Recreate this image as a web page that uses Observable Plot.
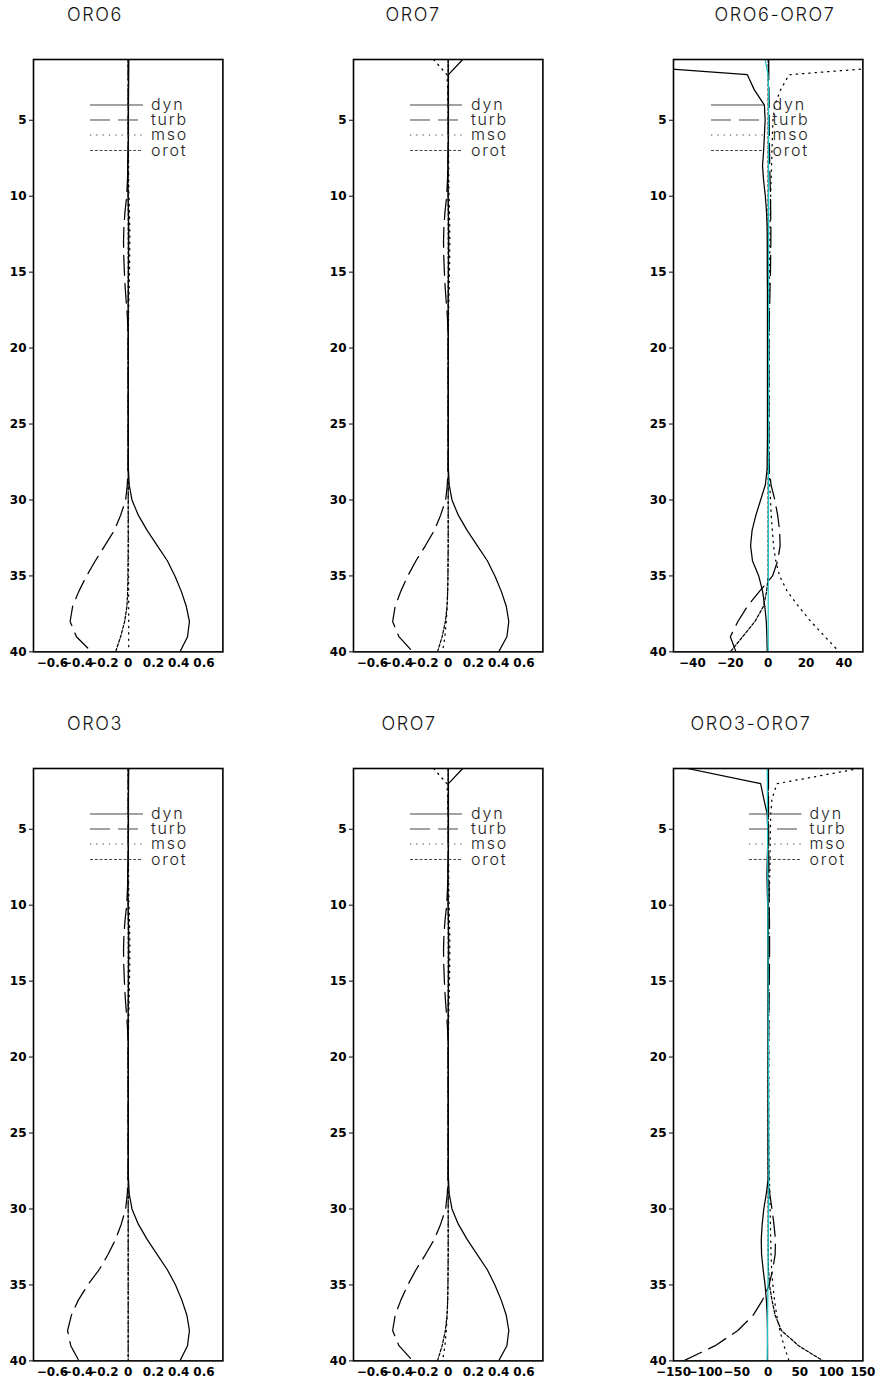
<!DOCTYPE html>
<html><head><meta charset="utf-8">
<script src="https://cdn.jsdelivr.net/npm/d3@7"></script>
<script src="https://cdn.jsdelivr.net/npm/@observablehq/plot@0.6"></script>
<style>
body{margin:0;background:#fff;}
#wrap{position:relative;width:875px;height:1384px;background:#fff;overflow:hidden;}
.ttl{position:absolute;font-family:Inter,"DejaVu Sans",sans-serif;font-weight:300;font-size:18px;letter-spacing:1.6px;color:#111;white-space:nowrap;transform:translate(-50%,-50%);}
.panel{position:absolute;}
</style></head><body><div id="wrap"></div>
<script>
// model levels (1 = top)
const levels = [1,2,3,4,5,6,7,8,9,10,11,12,13,14,15,16,17,18,19,20,21,22,23,24,25,26,27,28,29,30,31,32,33,34,35,36,37,38,39,40];
const yTicks = [5,10,15,20,25,30,35,40];
const seriesNames = ["dyn","turb","mso","orot"];

// ORO6
const oro6Dyn  = [0.005,0.004,0.003,0.002,0.002,0.002,0.000,-0.004,-0.005,-0.001, 0.002,0.004,0.004,0.003,0.002,0.001,0,0,0,0, 0,0,0,0,0,0,0,0.002,0.008,0.030, 0.080,0.150,0.230,0.310,0.370,0.420,0.460,0.485,0.470,0.410];
const oro6Turb = [0,0,0,0,0,0,0,-0.002,-0.006,-0.012, -0.025,-0.034,-0.037,-0.035,-0.030,-0.024,-0.015,-0.006,-0.001,0, 0,0,0,0,0,0,0,-0.002,-0.007,-0.020, -0.060,-0.110,-0.185,-0.260,-0.330,-0.390,-0.440,-0.460,-0.410,-0.290];
const oro6Mso  = [0,0,0,0.001,0.001,0.002,0.002,0.003,0.004,0.006, 0.010,0.012,0.013,0.012,0.010,0.008,0.005,0.003,0.001,0, 0,0,0,0,0,0,0,0.001,0.001,0.001, 0.001,0.002,0.002,0.002,0.003,0.003,0.004,0.004,0.004,0.004];
const oro6Orot = [0,0,0,0,0,0,0,0,0,0, 0,0,0,0,0,0,0,0,0,0, 0,0,0,0,0,0,0,0,0,0, 0,0,0,-0.001,-0.002,-0.004,-0.010,-0.028,-0.060,-0.100];

// ORO7
const oro7Dyn  = [0.115,0.002,0.002,0.002,0.002,0.002,0.000,-0.003,-0.004,-0.001, 0.002,0.003,0.004,0.003,0.002,0.001,0,0,0,0, 0,0,0,0,0,0,0,0.002,0.008,0.030, 0.080,0.150,0.230,0.310,0.370,0.420,0.460,0.480,0.465,0.400];
const oro7Turb = [0,0,0,0,0,0,0,-0.002,-0.006,-0.012, -0.025,-0.034,-0.037,-0.035,-0.030,-0.024,-0.015,-0.006,-0.001,0, 0,0,0,0,0,0,0,-0.002,-0.007,-0.020, -0.060,-0.110,-0.180,-0.255,-0.320,-0.375,-0.420,-0.440,-0.390,-0.280];
const oro7Mso  = [-0.115,-0.010,-0.004,-0.002,0.000,0.002,0.003,0.004,0.005,0.007, 0.010,0.012,0.013,0.012,0.010,0.008,0.005,0.003,0.001,0, 0,0,0,0,0,0,0,0,0,0, 0,0,0,-0.001,-0.002,-0.004,-0.008,-0.015,-0.026,-0.045];
const oro7Orot = [0,0,0,0,0,0,0,0,0,0, 0,0,0,0,0,0,0,0,0,0, 0,0,0,0,0,0,0,0,0,0, 0,0,0,-0.001,-0.002,-0.004,-0.009,-0.022,-0.048,-0.085];

// ORO3
const oro3Dyn  = [0.004,0.003,0.002,0.002,0.002,0.001,0.000,-0.004,-0.005,-0.001, 0.002,0.004,0.004,0.003,0.002,0.001,0,0,0,0, 0,0,0,0,0,0,0,0.002,0.008,0.030, 0.080,0.150,0.230,0.310,0.375,0.425,0.465,0.485,0.470,0.410];
const oro3Turb = [0,0,0,0,0,0,0,-0.002,-0.006,-0.012, -0.025,-0.034,-0.037,-0.035,-0.030,-0.024,-0.015,-0.006,-0.001,0, 0,0,0,0,0,0,0,-0.002,-0.007,-0.020, -0.055,-0.100,-0.160,-0.230,-0.320,-0.395,-0.450,-0.480,-0.455,-0.390];
const oro3Mso  = [0,0,0,0.001,0.001,0.002,0.002,0.003,0.004,0.006, 0.010,0.012,0.013,0.012,0.010,0.008,0.005,0.003,0.001,0, 0,0,0,0,0,0,0,0,0,0, 0,0,0,0,0,0,0,0,0,0];
const oro3Orot = [0,0,0,0,0,0,0,0,0,0, 0,0,0,0,0,0,0,0,0,0, 0,0,0,0,0,0,0,0,0,0, 0,0,0,0,0,0,0,0,0,0];

// ORO6-ORO7
const d67Dyn  = [-120,-11,-7.3,-2.0,-1.6,-2.0,-2.4,-3.0,-2.4,-1.5, -0.9,-0.6,-0.5,-0.5,-0.5,-0.4,-0.4,-0.4,-0.4,-0.4, -0.4,-0.4,-0.4,-0.4,-0.4,-0.4,-0.5,-0.6,-1.5,-4.0, -6.5,-8.5,-9.3,-8.3,-5.0,-3.0,-1.8,-1.0,-0.7,-0.5];
const d67Turb = [0.3,0.3,0.4,0.5,0.5,0.6,0.7,0.8,1.0,1.2, 1.3,1.4,1.4,1.3,1.2,1.0,0.8,0.6,0.5,0.4, 0.4,0.4,0.4,0.4,0.4,0.4,0.4,0.6,1.5,3.5, 5.0,6.0,6.3,5.0,2.3,-4.5,-11.0,-16.0,-20.0,-17.0];
const d67Mso  = [115,11,6.5,3.5,2.5,2.2,2.0,1.8,1.5,1.3, 1.1,1.0,0.9,0.8,0.7,0.6,0.6,0.5,0.5,0.5, 0.5,0.5,0.5,0.5,0.5,0.5,0.5,0.6,0.8,1.2, 1.6,2.2,2.8,4.0,6.0,10.0,16.0,22.5,30.0,37.5];
const d67Orot = [0,0,0,0,0,0,0,0,0,0, 0,0,0,0,0,0,0,0,0,0, 0,0,0,0,0,0,0,0,0,0, 0,0,0,0,0,-0.8,-2.5,-7.0,-13.5,-20.0];
const d67Tot  = [-1.6,-0.1,0.2,0.2,0.2,0.2,0.2,0.2,0.2,0.2, 0.2,0.2,0.2,0.2,0.2,0.2,0.2,0.2,0.2,0.2, 0.2,0.2,0.2,0.2,0.2,0.2,0.2,0.2,0.2,0.2, 0.1,0.1,0.1,0.1,0.1,0,0,0,0,0];

// ORO3-ORO7
const d37Dyn  = [-128,-12,-7,-1.6,-0.8,-0.8,-1.5,-2.0,-1.5,-0.8, -0.5,-0.3,-0.3,-0.3,-0.3,-0.3,-0.3,-0.3,-0.3,-0.3, -0.3,-0.3,-0.3,-0.3,-0.3,-0.3,-0.2,0,-3,-7, -9.5,-11,-10.5,-8,-5,-2.8,-1.6,-1.2,-1.0,-1.0];
const d37Turb = [0.5,0.5,0.5,0.6,0.7,0.8,1.0,1.2,1.5,1.8, 2.0,2.2,2.2,2.0,1.8,1.5,1.2,1.0,0.8,0.6, 0.5,0.5,0.5,0.5,0.5,0.5,0.6,1.0,2.5,6.0, 9.0,11.5,11.0,7.0,1.5,-9.0,-24.0,-48.0,-84.0,-134.0];
const d37Mso  = [144,14,6,4,3.5,3,3,2.5,2.0,1.5, 1.2,1.0,1.0,1.0,1.0,1.0,1.0,1.0,1.0,1.0, 1.0,1.0,1.0,1.0,1.0,1.2,1.5,2.0,2.5,3.0, 3.5,4.0,4.5,5.5,7.5,10.0,13.5,18.5,25.0,33.0];
const d37Orot = [0,0,0,0,0,0,0,0,0,0, 0,0,0,0,0,0,0,0,0,0, 0,0,0,0,0,0,0,0,0,0, 0,0,0,0.5,2.0,6.0,11.0,21.0,48.0,87.0];
const d37Tot  = [-1.5,-1.4,-1.3,-1.2,-1.1,-1.0,-0.9,-0.8,-0.7,-0.6, -0.5,-0.4,-0.3,-0.2,-0.1,0,0.1,0.2,0.3,0.4, 0.5,0.6,0.7,0.8,0.9,1.0,1.0,1.0,0.8,0.6, 0.4,0.2,0,-0.2,-0.4,-0.6,-0.8,-1.0,-1.3,-1.6];

const ticksSmall = [-0.6,-0.4,-0.2,0,0.2,0.4,0.6];
const ticks50 = [-40,-20,0,20,40];
const ticks150 = [-150,-100,-50,0,50,100,150];

const styles = {
  dyn:  {dash: null},
  turb: {dash: "20,8"},
  mso:  {dash: "1.3,5"},
  orot: {dash: "3,1.8"}
};

const panels = [
  {title:"ORO6", tx:95, ty:14, left:33.3, top:59.3, domain:[-0.75,0.75], ticks:ticksSmall, vals:[oro6Dyn,oro6Turb,oro6Mso,oro6Orot], leg:[57,110,118]},
  {title:"ORO7", tx:413, ty:14, left:353.3, top:59.3, domain:[-0.75,0.75], ticks:ticksSmall, vals:[oro7Dyn,oro7Turb,oro7Mso,oro7Orot], leg:[57,109,118]},
  {title:"ORO6-ORO7", tx:775, ty:14, left:673.3, top:59.3, domain:[-50,50], ticks:ticks50, vals:[d67Dyn,d67Turb,d67Mso,d67Orot], tot:d67Tot, leg:[38,91,99.5]},
  {title:"ORO3", tx:95, ty:722.5, left:33.3, top:767.7, domain:[-0.75,0.75], ticks:ticksSmall, vals:[oro3Dyn,oro3Turb,oro3Mso,oro3Orot], leg:[57,110,118]},
  {title:"ORO7", tx:409, ty:722.5, left:353.3, top:767.7, domain:[-0.75,0.75], ticks:ticksSmall, vals:[oro7Dyn,oro7Turb,oro7Mso,oro7Orot], leg:[57,109,118]},
  {title:"ORO3-ORO7", tx:751, ty:722.5, left:673.3, top:767.7, domain:[-150,150], ticks:ticks150, vals:[d37Dyn,d37Turb,d37Mso,d37Orot], tot:d37Tot, leg:[76,128.5,136.5]}
];

const wrap = document.getElementById("wrap");
const W = 189.4, H = 592.4;
const mL = 40, mR = 16, mT = 6, mB = 28;
const legY = [46, 61, 76, 91.5];
const fmt = d => (d < 0 ? "\u2212" : "") + String(Math.abs(d));

for (const p of panels) {
  const marks = [];
  p.vals.forEach((vals, k) => {
    const name = seriesNames[k];
    const data = levels.map((lv, i) => ({level: lv, v: vals[i]}));
    marks.push(Plot.line(data, {x: "v", y: "level", stroke: "#000", strokeWidth: 1.25,
      strokeDasharray: styles[name].dash || undefined, clip: true}));
  });
  if (p.tot) {
    const data = levels.map((lv, i) => ({level: lv, v: p.tot[i]}));
    marks.push(Plot.line(data, {x: "v", y: "level", stroke: "#1cc4c4", strokeWidth: 1.2, clip: true}));
  }
  marks.push(Plot.frame({stroke: "#000", strokeWidth: 1.6}));
  marks.push(Plot.axisY({ticks: yTicks, tickSize: 4, tickPadding: 3, fontSize: 12, fontWeight: "bold"}));
  marks.push(Plot.axisX({ticks: p.ticks, tickFormat: fmt, tickSize: 0, tickPadding: 7, fontSize: 12, fontWeight: "bold"}));

  const svg = Plot.plot({
    width: W + mL + mR, height: H + mT + mB,
    marginLeft: mL, marginRight: mR, marginTop: mT, marginBottom: mB,
    x: {domain: p.domain, label: null},
    y: {domain: [1, 40], reverse: true, label: null},
    style: {fontFamily: "'DejaVu Sans', sans-serif", color: "#000", background: "transparent", overflow: "visible"},
    marks
  });
  svg.classList.add("panel");
  svg.style.left = (p.left - mL) + "px";
  svg.style.top = (p.top - mT) + "px";

  // legend inside the frame
  const g = d3.select(svg).append("g").attr("text-anchor", "start");
  seriesNames.forEach((name, k) => {
    const y = mT + legY[k];
    g.append("line").attr("x1", mL + p.leg[0]).attr("x2", mL + p.leg[1])
      .attr("y1", y).attr("y2", y)
      .attr("stroke", "#444").attr("stroke-width", 1)
      .attr("stroke-dasharray", styles[name].dash);
    g.append("text").attr("x", mL + p.leg[2]).attr("y", y + 5.5)
      .attr("text-anchor", "start")
      .attr("font-family", "Inter, 'DejaVu Sans', sans-serif").attr("font-weight", 300)
      .attr("font-size", 16).attr("letter-spacing", 1.8).attr("fill", "#222")
      .text(name);
  });
  wrap.appendChild(svg);

  const t = document.createElement("div");
  t.className = "ttl";
  t.style.left = p.tx + "px";
  t.style.top = p.ty + "px";
  t.textContent = p.title;
  wrap.appendChild(t);
}
</script>
</body></html>
